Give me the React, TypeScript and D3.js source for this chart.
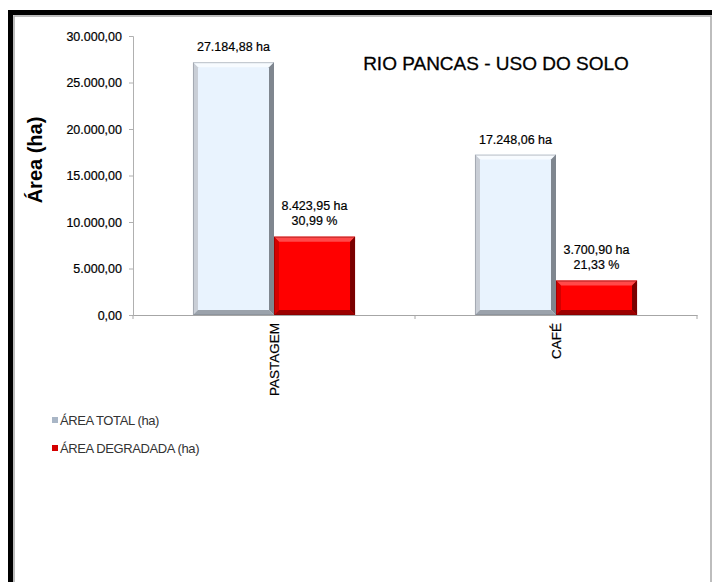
import React, { useRef, useEffect } from 'react'
import * as d3 from 'd3'

const categories = ['PASTAGEM', 'CAFÉ']
const seriesNames = ['ÁREA TOTAL (ha)', 'ÁREA DEGRADADA (ha)']
const areaTotal = [27184.88, 17248.06]
const areaDegradada = [8423.95, 3700.9]
const percentDegradada = [30.99, 21.33]
const yTicks = [0, 5000, 10000, 15000, 20000, 25000, 30000]

const FONT = '"Liberation Sans", Arial, sans-serif'

const ptBR = d3.formatLocale({
  decimal: ',',
  thousands: '.',
  grouping: [3],
  currency: ['R$', ''],
})
const fmt = ptBR.format(',.2f')

// bevel colours: [face, top, left, right, bottom]
const BEVEL = [
  ['#e9f3fe', '#f7fbff', '#c9ced6', '#7f868f', '#9ba2ab'],
  ['#ff0000', '#ff4a4a', '#d40000', '#7a0000', '#9c0000'],
]

function App() {
  const svgRef = useRef<SVGSVGElement>(null)

  useEffect(() => {
    const svg = d3.select(svgRef.current)
    svg.selectAll('*').remove()

    const width = 712
    const height = 582

    svg.attr('width', width).attr('height', height)

    svg.append('rect').attr('width', width).attr('height', height).attr('fill', '#fff')

    // frame
    svg.append('path')
      .attr('d', 'M10.5,582 V12.5 H712')
      .attr('fill', 'none').attr('stroke', '#000').attr('stroke-width', 5)
    svg.append('path')
      .attr('d', 'M14,582 V16 H711 V582')
      .attr('fill', 'none').attr('stroke', '#a8a8a8').attr('stroke-width', 1.5)

    const x = d3.scaleBand().domain(categories).range([133, 697]).padding(0)
    const xs = d3.scaleBand().domain(seriesNames).range([0, x.bandwidth()])
      .paddingInner(0).paddingOuter(0.74)
    const y = d3.scaleLinear().domain([0, 30000]).range([315, 36])

    // y axis
    const yAxis = svg.append('g')
      .attr('transform', 'translate(133,0)')
      .call(d3.axisLeft(y).tickValues(yTicks).tickSize(4).tickPadding(7).tickFormat((d) => fmt(d as number)))
    yAxis.selectAll('text')
      .attr('font-family', FONT).attr('font-size', '12.5px').attr('fill', '#000')
      .attr('stroke', '#000').attr('stroke-width', 0.2)
    yAxis.selectAll('.domain, .tick line').attr('stroke', '#b0b0b0')

    // x axis
    const xAxis = svg.append('g')
      .attr('transform', 'translate(0,315)')
      .call(d3.axisBottom(x).tickSize(0).tickFormat(() => ''))
    xAxis.select('.domain').attr('stroke', '#a6a6a6')
    xAxis.selectAll('.tick').remove()
    ;[133, ...categories.slice(1).map((c) => x(c)!), 697].forEach((px) => {
      xAxis.append('line').attr('x1', px).attr('x2', px).attr('y1', 0).attr('y2', 4).attr('stroke', '#a6a6a6')
    })

    // bars
    const b = 5
    const drawBar = (x0: number, w: number, y0: number, h: number, col: string[]) => {
      const g = svg.append('g')
      const x1 = x0 + w
      const y1 = y0 + h
      g.append('rect').attr('x', x0).attr('y', y0).attr('width', w).attr('height', h).attr('fill', col[0])
      g.append('path').attr('fill', col[1])
        .attr('d', `M${x0},${y0}L${x1},${y0}L${x1 - b},${y0 + b}L${x0 + b},${y0 + b}Z`)
      g.append('path').attr('fill', col[2])
        .attr('d', `M${x0},${y0}L${x0 + b},${y0 + b}L${x0 + b},${y1 - b}L${x0},${y1}Z`)
      g.append('path').attr('fill', col[3])
        .attr('d', `M${x1},${y0}L${x1},${y1}L${x1 - b},${y1 - b}L${x1 - b},${y0 + b}Z`)
      g.append('path').attr('fill', col[4])
        .attr('d', `M${x0},${y1}L${x0 + b},${y1 - b}L${x1 - b},${y1 - b}L${x1},${y1}Z`)
      g.append('rect').attr('x', x0 + 0.5).attr('y', y0 + 0.5).attr('width', w - 1).attr('height', h - 1)
        .attr('fill', 'none').attr('stroke', col[3]).attr('stroke-opacity', 0.5)
    }

    const series = [areaTotal, areaDegradada]
    series.forEach((vals, si) => {
      categories.forEach((c, ci) => {
        const bx = x(c)! + xs(seriesNames[si])!
        const bw = xs.bandwidth()
        const top = y(vals[ci])
        drawBar(bx, bw, top, y(0) - top, BEVEL[si])

        const cx = bx + bw / 2
        const lbl = svg.append('text')
          .attr('x', cx)
          .attr('text-anchor', 'middle')
          .attr('font-family', FONT).attr('font-size', '12.5px').attr('fill', '#000')
          .attr('stroke', '#000').attr('stroke-width', 0.2)
        if (si === 0) {
          lbl.attr('y', top - 11).text(`${fmt(vals[ci])} ha`)
        } else {
          lbl.append('tspan').attr('x', cx).attr('y', top - 27).text(`${fmt(vals[ci])} ha`)
          lbl.append('tspan').attr('x', cx).attr('y', top - 12).text(`${fmt(percentDegradada[ci])} %`)
        }
      })
    })

    // category labels
    categories.forEach((c) => {
      const cx = x(c)! + x.bandwidth() / 2 + 5
      svg.append('text')
        .attr('transform', `translate(${cx},323) rotate(-90)`)
        .attr('text-anchor', 'end')
        .attr('font-family', FONT).attr('font-size', '13.5px').attr('fill', '#000')
        .attr('stroke', '#000').attr('stroke-width', 0.2)
        .text(c)
    })

    // y title
    svg.append('text')
      .attr('transform', 'translate(42,160) rotate(-90)')
      .attr('text-anchor', 'middle')
      .attr('font-family', FONT).attr('font-size', '20px').attr('font-weight', 'bold').attr('fill', '#000')
      .text('Área (ha)')

    // chart title
    svg.append('text')
      .attr('x', 496).attr('y', 70)
      .attr('text-anchor', 'middle')
      .attr('font-family', FONT).attr('font-size', '19px').attr('fill', '#000')
      .attr('stroke', '#000').attr('stroke-width', 0.3)
      .text('RIO PANCAS - USO DO SOLO')

    // legend
    const legendColors = ['#a9b6c6', '#d40000']
    seriesNames.forEach((name, i) => {
      const ly = 420 + i * 28
      svg.append('rect')
        .attr('x', 52).attr('y', ly - 3).attr('width', 6).attr('height', 6)
        .attr('fill', legendColors[i])
      svg.append('text')
        .attr('x', 60).attr('y', ly + 5)
        .attr('font-family', FONT).attr('font-size', '13px').attr('fill', '#333')
        .attr('letter-spacing', '-0.4')
        .text(name)
    })
  }, [])

  return <svg ref={svgRef} style={{ position: 'absolute', left: 0, top: 0, display: 'block' }} />
}

export default App
